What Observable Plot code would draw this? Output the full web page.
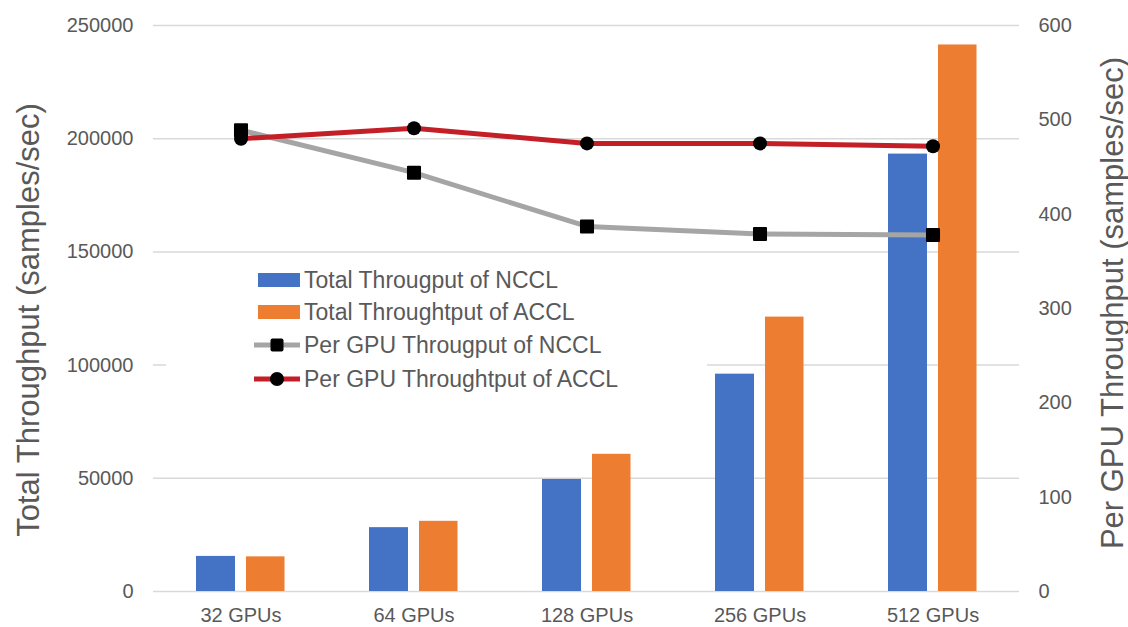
<!DOCTYPE html>
<html>
<head>
<meta charset="utf-8">
<script src="https://cdn.jsdelivr.net/npm/d3@7"></script>
<script src="https://cdn.jsdelivr.net/npm/@observablehq/plot@0.6"></script>
<style>
  html, body { margin: 0; padding: 0; background: #fff; }
  #wrap { position: relative; width: 1128px; height: 627px; overflow: hidden; font-family: "Liberation Sans", Arial, sans-serif; color: #595959; }
  .ytitle { position: absolute; white-space: nowrap; font-size: 31px; line-height: 31px; transform: translate(-50%, -50%) rotate(-90deg); }
  #legend { position: absolute; left: 166px; top: 262px; width: 541px; height: 133px; background: #fff; }
  .lrow { position: absolute; left: 88px; display: flex; align-items: center; height: 30px; font-size: 23px; white-space: nowrap; }
  .lrow svg { margin-right: 4px; }
</style>
</head>
<body>
<div id="wrap"></div>
<script>
// ---- data ----
const categories = ["32 GPUs", "64 GPUs", "128 GPUs", "256 GPUs", "512 GPUs"];
const totalNCCL = [15500, 28200, 49500, 96000, 193200];
const totalACCL = [15300, 31000, 60600, 121200, 241400];
const perGpuNCCL = [489, 444, 387, 379, 378];
const perGpuACCL = [480, 491, 475, 475, 472];
const leftTicks = [0, 50000, 100000, 150000, 200000, 250000];
const rightTicks = [0, 100, 200, 300, 400, 500, 600];
const seriesNames = [
  "Total Througput of NCCL",
  "Total Throughtput of ACCL",
  "Per GPU Througput of NCCL",
  "Per GPU Throughtput of ACCL"
];
const leftTitle = "Total Throughput (samples/sec)";
const rightTitle = "Per GPU Throughput (samples/sec)";

const colors = { nccl: "#4472C4", accl: "#ED7D31", pnccl: "#A5A5A5", paccl: "#C41F27" };

const leftMax = 250000, rightMax = 600;
const k = leftMax / rightMax; // map right-axis values onto left scale

const data = categories.map((c, i) => ({
  cat: c,
  nccl: totalNCCL[i],
  accl: totalACCL[i],
  pnccl: perGpuNCCL[i],
  paccl: perGpuACCL[i]
}));

const chart = Plot.plot({
  width: 1128,
  height: 627,
  marginLeft: 153,
  marginRight: 109,
  marginTop: 25,
  marginBottom: 36,
  style: { fontFamily: "'Liberation Sans', Arial, sans-serif", fontSize: "20px", color: "#595959", background: "transparent" },
  x: { type: "band", domain: categories, padding: 0, label: null },
  y: { domain: [0, leftMax], label: null },
  marks: [
    Plot.ruleY(leftTicks, { stroke: "#D9D9D9", strokeWidth: 1.5 }),
    Plot.axisY({ ticks: leftTicks, tickSize: 0, tickPadding: 20, label: null, tickFormat: d => String(d) }),
    Plot.axisY({ anchor: "right", ticks: rightTicks.map(v => v * k), tickSize: 0, tickPadding: 19, label: null, tickFormat: v => String(Math.round(v / k)) }),
    Plot.axisX({ tickSize: 0, tickPadding: 16, label: null }),
    Plot.barY(data, { x: "cat", y: "nccl", fill: colors.nccl, insetLeft: 42, insetRight: 92 }),
    Plot.barY(data, { x: "cat", y: "accl", fill: colors.accl, insetLeft: 92, insetRight: 42.5 }),
    Plot.line(data, { x: "cat", y: d => d.pnccl * k, stroke: colors.pnccl, strokeWidth: 5 }),
    Plot.line(data, { x: "cat", y: d => d.paccl * k, stroke: colors.paccl, strokeWidth: 5 }),
    Plot.dot(data, { x: "cat", y: d => d.pnccl * k, symbol: "square", r: 6.8, fill: "black", stroke: "black", strokeWidth: 2, strokeLinejoin: "round" }),
    Plot.dot(data, { x: "cat", y: d => d.paccl * k, symbol: "circle", r: 7, fill: "black" })
  ]
});

const wrap = document.getElementById("wrap");
wrap.appendChild(chart);

// axis titles
const lt = document.createElement("div");
lt.className = "ytitle";
lt.textContent = leftTitle;
lt.style.left = "28px"; lt.style.top = "320px";
wrap.appendChild(lt);

const rt = document.createElement("div");
rt.className = "ytitle";
rt.textContent = rightTitle;
rt.style.left = "1112px"; rt.style.top = "303px";
wrap.appendChild(rt);

// legend
const legend = document.createElement("div");
legend.id = "legend";
wrap.appendChild(legend);
const rowTops = [3, 35, 68, 102];
const kinds = ["bar", "bar", "square", "circle"];
const legendColors = [colors.nccl, colors.accl, colors.pnccl, colors.paccl];
seriesNames.forEach((name, i) => {
  const row = document.createElement("div");
  row.className = "lrow";
  row.style.top = rowTops[i] + "px";
  let sw;
  if (kinds[i] === "bar") {
    sw = `<svg width="46" height="20"><rect x="4" y="3" width="42" height="14" fill="${legendColors[i]}"/></svg>`;
  } else if (kinds[i] === "square") {
    sw = `<svg width="46" height="20"><line x1="0" x2="46" y1="10" y2="10" stroke="${legendColors[i]}" stroke-width="5" stroke-linecap="round"/><rect x="16.5" y="3.5" width="13" height="13" rx="2" fill="black"/></svg>`;
  } else {
    sw = `<svg width="46" height="20"><line x1="0" x2="46" y1="10" y2="10" stroke="${legendColors[i]}" stroke-width="5" stroke-linecap="round"/><circle cx="23" cy="10" r="7" fill="black"/></svg>`;
  }
  row.innerHTML = sw + `<span>${name}</span>`;
  legend.appendChild(row);
});
</script>
</body>
</html>
